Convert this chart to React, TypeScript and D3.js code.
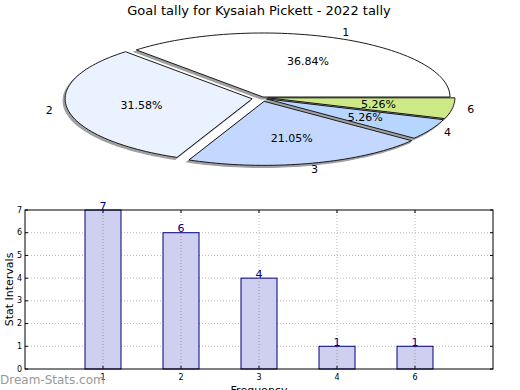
import React from "react";
import * as d3 from "d3";

const title = "Goal tally for Kysaiah Pickett - 2022 tally";
const pieLabels = ["1", "2", "3", "4", "6"];
const pieValues = [7, 6, 4, 1, 1];
const pieColors = ["#ffffff", "#eaf1ff", "#c4d8ff", "#b6d6ff", "#cce887"];
const pieExplode = [0, 11, 4.5, 4, 5];

const barCategories = ["1", "2", "3", "4", "6"];
const barValues = [7, 6, 4, 1, 1];
const yTicks = [0, 1, 2, 3, 4, 5, 6, 7];

const W = 520;
const H = 390;

export default function App() {
  const cx = 263;
  const cy = 97;
  const rx = 187;
  const ry = 64;
  const total = d3.sum(pieValues);
  // angles measured counterclockwise from east (math convention)
  const arcsData = pieValues.map((v, i) => {
    const start = (d3.sum(pieValues.slice(0, i)) / total) * 2 * Math.PI;
    const end = (d3.sum(pieValues.slice(0, i + 1)) / total) * 2 * Math.PI;
    return { v, i, start, end, mid: (start + end) / 2 };
  });

  const slicePath = (start: number, end: number) => {
    const pts: [number, number][] = [[0, 0]];
    const n = Math.max(8, Math.ceil(((end - start) / (2 * Math.PI)) * 200));
    for (let k = 0; k <= n; k++) {
      const a = start + ((end - start) * k) / n;
      pts.push([rx * Math.cos(a), -ry * Math.sin(a)]);
    }
    return d3.line()(pts) + "Z";
  };

  const x = d3.scaleLinear().domain([0, 6]).range([25, 493]);
  const y = d3.scaleLinear().domain([0, 7]).range([369, 210]);
  const barW = 36;
  const font = "DejaVu Sans, sans-serif";

  return (
    <svg
      width={W}
      height={H}
      style={{ position: "absolute", left: 0, top: 0, background: "#fff" }}
      fontFamily={font}
    >
      <text x={259} y={15} textAnchor="middle" fontSize={13} fill="#000">
        {title}
      </text>

      {/* pie shadows */}
      {arcsData.map((d) => {
        const ox = pieExplode[d.i] * Math.cos(d.mid);
        const oy = -pieExplode[d.i] * Math.sin(d.mid);
        return (
          <path
            key={"s" + d.i}
            d={slicePath(d.start, d.end)}
            transform={`translate(${cx + ox - 2},${cy + oy + 2})`}
            fill="#a0a0a0"
            stroke="#a0a0a0"
            strokeWidth={1.2}
          />
        );
      })}
      {arcsData.map((d) => {
        const ox = pieExplode[d.i] * Math.cos(d.mid);
        const oy = -pieExplode[d.i] * Math.sin(d.mid);
        return (
          <path
            key={"p" + d.i}
            d={slicePath(d.start, d.end)}
            transform={`translate(${cx + ox},${cy + oy})`}
            fill={pieColors[d.i]}
            stroke="#1a1a1a"
            strokeWidth={1}
            strokeLinejoin="round"
          />
        );
      })}
      {arcsData.map((d) => {
        const ox = pieExplode[d.i] * Math.cos(d.mid);
        const oy = -pieExplode[d.i] * Math.sin(d.mid);
        const px = cx + ox + 0.6 * rx * Math.cos(d.mid);
        const py = cy + oy - 0.6 * ry * Math.sin(d.mid);
        const lx = cx + ox + 1.1 * rx * Math.cos(d.mid);
        const ly = cy + oy - 1.1 * ry * Math.sin(d.mid);
        return (
          <g key={"l" + d.i}>
            <text x={px} y={py} textAnchor="middle" dominantBaseline="central" fontSize={11} fill="#000">
              {((d.v / total) * 100).toFixed(2) + "%"}
            </text>
            <text x={lx} y={ly} textAnchor="middle" dominantBaseline="central" fontSize={11} fill="#000">
              {pieLabels[d.i]}
            </text>
          </g>
        );
      })}

      {/* bar chart */}
      <g>
        {yTicks.slice(1, -1).map((t) => (
          <line
            key={"gy" + t}
            x1={x(0)}
            x2={x(6)}
            y1={y(t)}
            y2={y(t)}
            stroke="#b8b8b8"
            strokeDasharray="1,2"
          />
        ))}
        {barCategories.map((c, i) => (
          <line
            key={"gx" + c}
            x1={x(i + 1)}
            x2={x(i + 1)}
            y1={y(0)}
            y2={y(7)}
            stroke="#b8b8b8"
            strokeDasharray="1,2"
          />
        ))}
        {barValues.map((v, i) => (
          <g key={"b" + i}>
            <rect
              x={x(i + 1) - barW / 2}
              y={y(v)}
              width={barW}
              height={y(0) - y(v)}
              fill="#ccccee"
              fillOpacity={0.95}
              stroke="#000080"
              strokeWidth={1}
            />
            <line
              x1={x(i + 1)}
              x2={x(i + 1)}
              y1={y(0)}
              y2={y(v)}
              stroke="#999"
              strokeDasharray="1,2"
            />
            <text x={x(i + 1)} y={y(v) - 0.5} textAnchor="middle" fontSize={11} fill="#000080">
              {v}
            </text>
          </g>
        ))}
        <rect x={x(0)} y={y(7)} width={x(6) - x(0)} height={y(0) - y(7)} fill="none" stroke="#000" strokeWidth={1} />
        {yTicks.map((t) => (
          <g key={"ty" + t}>
            <line x1={x(0)} x2={x(0) + 3} y1={y(t)} y2={y(t)} stroke="#000" />
            <line x1={x(6)} x2={x(6) - 3} y1={y(t)} y2={y(t)} stroke="#000" />
            <text x={x(0) - 3} y={y(t)} textAnchor="end" dominantBaseline="central" fontSize={8} fill="#000">
              {t}
            </text>
          </g>
        ))}
        {barCategories.map((c, i) => (
          <g key={"tx" + c}>
            <line x1={x(i + 1)} x2={x(i + 1)} y1={y(0)} y2={y(0) - 3} stroke="#000" />
            <line x1={x(i + 1)} x2={x(i + 1)} y1={y(7)} y2={y(7) + 3} stroke="#000" />
            <text x={x(i + 1)} y={y(0) + 11} textAnchor="middle" fontSize={8} fill="#000">
              {c}
            </text>
          </g>
        ))}
        <text
          transform={`translate(13,${(y(0) + y(7)) / 2}) rotate(-90)`}
          textAnchor="middle"
          fontSize={11}
          fill="#000"
        >
          Stat Intervals
        </text>
        <text x={(x(0) + x(6)) / 2} y={394} textAnchor="middle" fontSize={11} fill="#000">
          Frequency
        </text>
        <text x={0} y={384} fontSize={12} fill="#999">
          Dream-Stats.com
        </text>
      </g>
    </svg>
  );
}
